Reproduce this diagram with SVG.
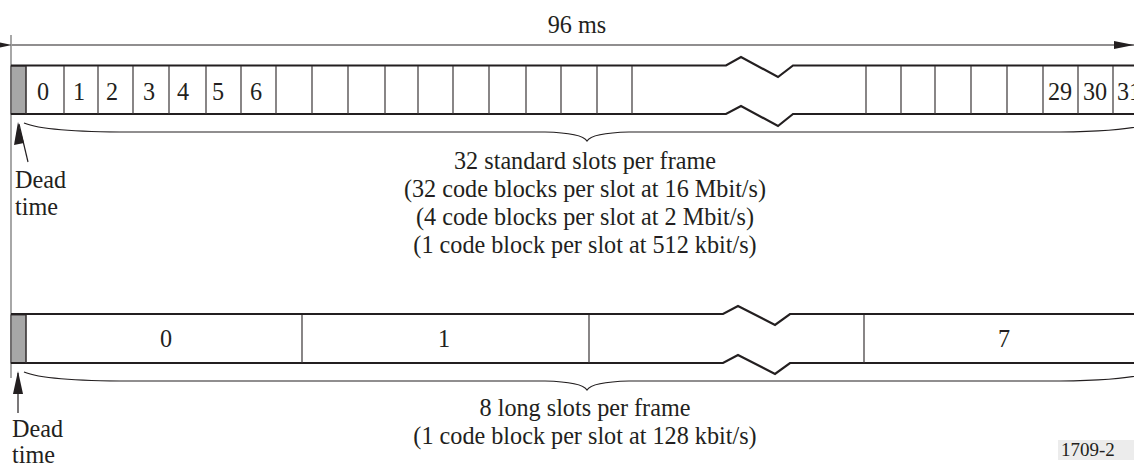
<svg xmlns="http://www.w3.org/2000/svg" width="1134" height="464" viewBox="0 0 1134 464">
<style>
.t{font-family:"Liberation Serif","Times New Roman",serif;font-size:24.2px;fill:#231f20}
.c{text-anchor:middle}
.frame{stroke:#231f20;stroke-width:2.2;fill:none;stroke-linejoin:miter}
.div{stroke:#3a3536;stroke-width:1.2}
.thin{stroke:#231f20;stroke-width:1.2;fill:none}
.dead{fill:#a7a7a7;stroke:#3a3536;stroke-width:1}
.small{font-family:"Liberation Serif","Times New Roman",serif;font-size:19px;fill:#231f20}
</style>
<defs>
<marker id="ah" viewBox="0 0 20 8" refX="20" refY="4" markerWidth="20" markerHeight="8" markerUnits="userSpaceOnUse" orient="auto">
<path d="M0,0 L20,4 L0,8 Z" fill="#231f20"/>
</marker>
</defs>
<rect width="1134" height="464" fill="#ffffff"/>

<g id="connectors">
<line x1="11" y1="35" x2="11" y2="378" stroke="#6d6d6d" stroke-width="1.2"/>
<line class="thin" x1="12" y1="45" x2="1134" y2="45" marker-start="url(#ah)" marker-end="url(#ah)"/>
<path class="thin" d="M19,124 L28,162"/>
<path d="M18,122 L24,143 L14,145 Z" fill="#231f20"/>
<path class="thin" d="M18,373 L18,413"/>
<path d="M18,371 L23,394 L13,394 Z" fill="#231f20"/>
</g>

<g id="duration-label">
<text class="t c" x="577" y="33">96 ms</text>
</g>

<g id="standard-frame">
<rect class="dead" x="11" y="66" width="15" height="48"/>
<path class="frame" d="M11,65.5 L726,65.5 L741,57 L778,77 L793,65.5 L1134,65.5"/>
<path class="frame" d="M11,114 L726,114 L741,106 L778,126 L793,114 L1134,114"/>
<g class="div">
<line x1="26" y1="66" x2="26" y2="114"/>
<line x1="64" y1="66" x2="64" y2="114"/>
<line x1="98" y1="66" x2="98" y2="114"/>
<line x1="133" y1="66" x2="133" y2="114"/>
<line x1="169" y1="66" x2="169" y2="114"/>
<line x1="206" y1="66" x2="206" y2="114"/>
<line x1="241" y1="66" x2="241" y2="114"/>
<line x1="276" y1="66" x2="276" y2="114"/>
<line x1="312" y1="66" x2="312" y2="114"/>
<line x1="348" y1="66" x2="348" y2="114"/>
<line x1="385" y1="66" x2="385" y2="114"/>
<line x1="418" y1="66" x2="418" y2="114"/>
<line x1="453" y1="66" x2="453" y2="114"/>
<line x1="489" y1="66" x2="489" y2="114"/>
<line x1="526" y1="66" x2="526" y2="114"/>
<line x1="561" y1="66" x2="561" y2="114"/>
<line x1="597" y1="66" x2="597" y2="114"/>
<line x1="632" y1="66" x2="632" y2="114"/>
<line x1="866" y1="66" x2="866" y2="114"/>
<line x1="901" y1="66" x2="901" y2="114"/>
<line x1="935" y1="66" x2="935" y2="114"/>
<line x1="971" y1="66" x2="971" y2="114"/>
<line x1="1007" y1="66" x2="1007" y2="114"/>
<line x1="1043" y1="66" x2="1043" y2="114"/>
<line x1="1078" y1="66" x2="1078" y2="114"/>
<line x1="1113" y1="66" x2="1113" y2="114"/>
</g>
<text class="t" x="37" y="100">0</text>
<text class="t" x="73" y="100">1</text>
<text class="t" x="106" y="100">2</text>
<text class="t" x="143" y="100">3</text>
<text class="t" x="177" y="100">4</text>
<text class="t" x="212" y="100">5</text>
<text class="t" x="250" y="100">6</text>
<text class="t" x="1048" y="100">29</text>
<text class="t" x="1083" y="100">30</text>
<text class="t" x="1117" y="100">31</text>
<path class="thin" d="M24,123 Q45,132 130,132 L545,132 Q582,133 587,141 Q592,133 629,132 L1045,132 Q1130,132 1150,123"/>
<text class="t c" x="585" y="169">32 standard slots per frame</text>
<text class="t c" x="585" y="197">(32 code blocks per slot at 16 Mbit/s)</text>
<text class="t c" x="585" y="225">(4 code blocks per slot at 2 Mbit/s)</text>
<text class="t c" x="585" y="253">(1 code block per slot at 512 kbit/s)</text>
</g>

<g id="dead-time-1">
<text class="t" x="15" y="188">Dead</text>
<text class="t" x="15" y="215">time</text>
</g>

<g id="long-frame">
<rect class="dead" x="11" y="315" width="15" height="48"/>
<path class="frame" d="M11,314 L723,314 L738,306 L775,325 L790,314 L1134,314"/>
<path class="frame" d="M11,363 L723,363 L738,355 L775,374 L790,363 L1134,363"/>
<g class="div">
<line x1="26" y1="315" x2="26" y2="363"/>
<line x1="302" y1="315" x2="302" y2="363"/>
<line x1="589" y1="315" x2="589" y2="363"/>
<line x1="864" y1="315" x2="864" y2="363"/>
</g>
<text class="t c" x="166" y="347">0</text>
<text class="t c" x="444" y="347">1</text>
<text class="t c" x="1004" y="347">7</text>
<path class="thin" d="M24,372 Q45,381 130,381 L545,381 Q582,382 587,390 Q592,382 629,381 L1045,381 Q1130,381 1150,372"/>
<text class="t c" x="585" y="416">8 long slots per frame</text>
<text class="t c" x="585" y="444">(1 code block per slot at 128 kbit/s)</text>
</g>

<g id="dead-time-2">
<text class="t" x="12" y="437">Dead</text>
<text class="t" x="12" y="463">time</text>
</g>

<g id="figure-id">
<rect x="1058" y="440" width="76" height="20" fill="#ececec"/>
<text class="small" x="1061" y="456">1709-2</text>
</g>
</svg>
